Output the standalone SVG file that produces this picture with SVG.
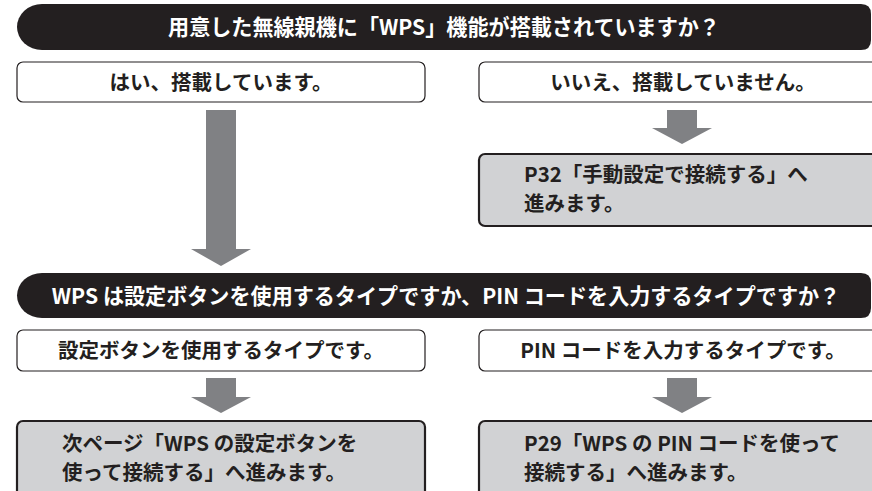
<svg xmlns="http://www.w3.org/2000/svg" width="872" height="491" viewBox="0 0 872 491">
<defs>
<style>
.banner{fill:#231f20}
.bt{fill:#ffffff;font-family:"Noto Sans CJK JP","Noto Sans",sans-serif;font-weight:bold;font-size:21.1px;text-anchor:middle}
.wbox{fill:#ffffff;stroke:#231f20;stroke-width:1.2}
.gbox{fill:#d1d2d4;stroke:#231f20;stroke-width:2.2}
.t{fill:#231f20;font-family:"Noto Sans CJK JP","Noto Sans",sans-serif;font-weight:bold;font-size:20.5px}
.c{text-anchor:middle}
.arrow{fill:#808184}
</style>
</defs>
<rect width="872" height="491" fill="#ffffff"/>

<g id="q1">
<path class="banner" d="M42 4 H861 Q871 4 871 14 V40 Q871 50 861 50 H42 A25 23 0 0 1 17 27 A25 23 0 0 1 42 4 Z"/>
<text class="bt" x="444" y="34.5">用意した無線親機に「WPS」機能が搭載されていますか？</text>
</g>

<g id="yes1">
<rect class="wbox" x="17" y="62" width="408" height="40" rx="6"/>
<text class="t c" x="221" y="89.5">はい、搭載しています。</text>
</g>

<g id="no1">
<rect class="wbox" x="479" y="62" width="408" height="40" rx="6"/>
<text class="t c" x="683" y="89.5">いいえ、搭載していません。</text>
</g>

<g id="manual">
<rect class="gbox" x="479" y="154" width="420" height="72" rx="6"/>
<text class="t" x="524" y="182" font-size="20.6">P32「手動設定で接続する」へ</text>
<text class="t" x="524" y="211" font-size="20.6">進みます。</text>
</g>

<g id="q2">
<path class="banner" d="M42 273 H861 Q871 273 871 283 V308 Q871 318 861 318 H42 A25 22.5 0 0 1 17 295.5 A25 22.5 0 0 1 42 273 Z"/>
<text class="bt" x="446" y="303.5">WPS は設定ボタンを使用するタイプですか、PIN コードを入力するタイプですか？</text>
</g>

<g id="button">
<rect class="wbox" x="17" y="330" width="408" height="41" rx="6"/>
<text class="t c" x="221" y="358">設定ボタンを使用するタイプです。</text>
</g>

<g id="pin">
<rect class="wbox" x="479" y="330" width="408" height="41" rx="6"/>
<text class="t c" x="683" y="358">PIN コードを入力するタイプです。</text>
</g>

<g id="nextpage">
<rect class="gbox" x="17" y="421" width="408" height="100" rx="6"/>
<text class="t" x="62" y="451">次ページ「WPS の設定ボタンを</text>
<text class="t" x="62" y="480">使って接続する」へ進みます。</text>
</g>

<g id="p29">
<rect class="gbox" x="479" y="421" width="420" height="100" rx="6"/>
<text class="t" x="524" y="451">P29「WPS の PIN コードを使って</text>
<text class="t" x="524" y="480">接続する」へ進みます。</text>
</g>

<g id="connectors">
<polygon class="arrow" points="206,110 236,110 236,249 251,249 221,266 191,249 206,249"/>
<polygon class="arrow" points="667,110 697,110 697,128 712,128 682,144 652,128 667,128"/>
<polygon class="arrow" points="206,378 236,378 236,397 251,397 221,413 191,397 206,397"/>
<polygon class="arrow" points="667,378 697,378 697,397 712,397 682,413 652,397 667,397"/>
</g>
</svg>
